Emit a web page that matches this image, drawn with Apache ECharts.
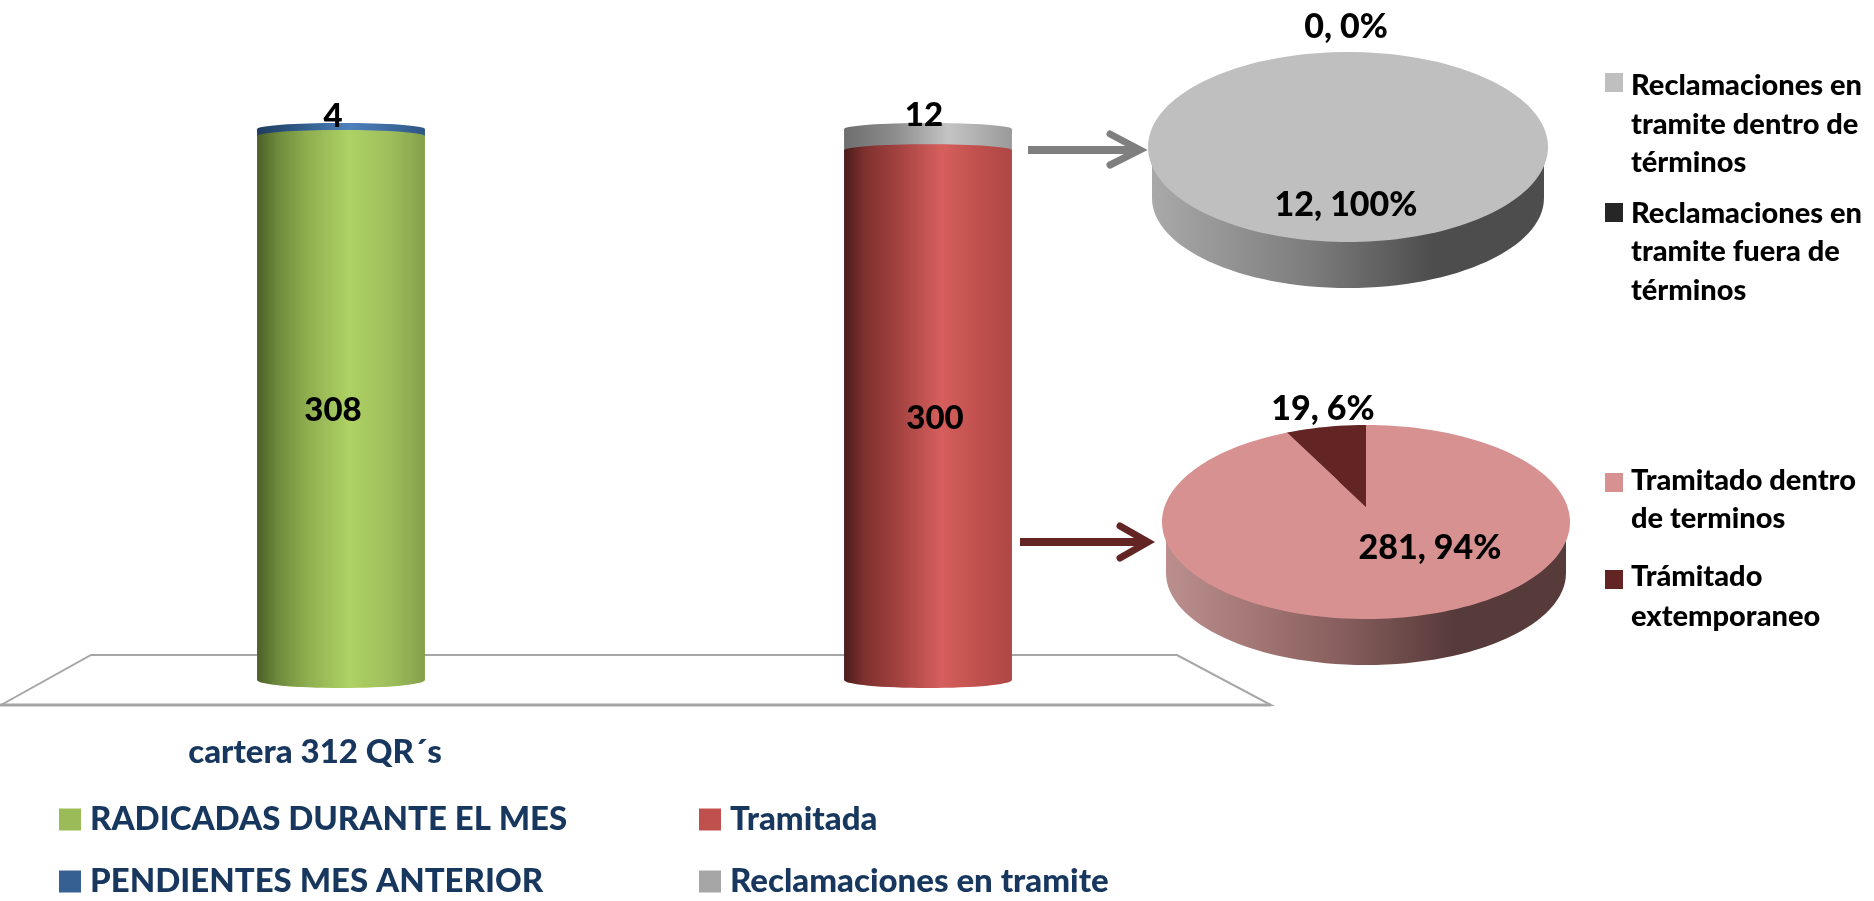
<!DOCTYPE html>
<html>
<head>
<meta charset="utf-8">
<title>cartera 312 QR´s</title>
<style>
  html, body { margin: 0; padding: 0; background: #fff; }
  #chart { width: 1874px; height: 901px; }
</style>
<script src="https://cdn.jsdelivr.net/npm/echarts@6/dist/echarts.min.js"></script>
</head>
<body>
<div id="chart"></div>
<script>
// datos
const categories = ['cartera 312 QR´s', '']
const radicadas = [308, null]
const pendientes = [4, null]
const tramitada = [null, 300]
const enTramite = [null, 12]

const grayNames = ['Reclamaciones en tramite dentro de términos', 'Reclamaciones en tramite fuera de términos']
const grayValues = [12, 0]
const pinkNames = ['Tramitado dentro de terminos', 'Trámitado extemporaneo']
const pinkValues = [281, 19]

const FONT = 'Lato'
const NAVY = '#17375e'

function cylinderFill(stops) {
  return new echarts.graphic.LinearGradient(0, 0, 1, 0,
    stops.map((c, i) => ({ offset: c[0], color: c[1] })))
}

const greenFill = cylinderFill([[0, '#4b5f27'], [0.12, '#6d8a3c'], [0.3, '#8fae50'], [0.55, '#aed264'], [0.8, '#9dbd5b'], [1, '#84a04a']])
const blueFill = cylinderFill([[0, '#1f3c5e'], [0.3, '#33608f'], [0.55, '#4f81bd'], [1, '#2f5684']])
const redFill = cylinderFill([[0, '#4a1c1b'], [0.12, '#7e302e'], [0.35, '#a84543'], [0.58, '#d65f5d'], [0.8, '#c0504d'], [1, '#ad4745']])
const grayFill = cylinderFill([[0, '#6e6e6e'], [0.3, '#8c8c8c'], [0.62, '#c4c4c4'], [1, '#9a9a9a']])

// segmento de cilindro: elipse inferior, cuerpo y tapa abombada
function cylinderSeries(name, values, below, color, fill, order, labelShift) {
  const data = values.map((v, i) => {
    if (v === null) return [i, 0, 0, 0]
    const base = below ? below[i] || 0 : 0
    return [i, base, base + v, v]
  }).filter((d) => d[3] > 0)
  return {
    type: 'custom',
    name: name,
    itemStyle: { color: color },
    encode: { x: 0, y: 2 },
    data: data,
    renderItem: function (params, api) {
      const bandW = api.size([1, 0])[0]
      const w = bandW * 0.286
      const p0 = api.coord([api.value(0), api.value(1)])
      const p1 = api.coord([api.value(0), api.value(2)])
      const left = p0[0] - w / 2
      const mid = api.coord([api.value(0), (api.value(1) + api.value(2)) / 2])
      return {
        type: 'group',
        children: [
          { type: 'ellipse', z2: order, shape: { cx: p0[0], cy: p0[1], rx: w / 2, ry: 8 }, style: { fill: fill } },
          { type: 'rect', z2: order, shape: { x: left, y: p1[1], width: w, height: p0[1] - p1[1] }, style: { fill: fill } },
          { type: 'ellipse', z2: order, shape: { cx: p0[0], cy: p1[1], rx: w / 2, ry: 6 }, style: { fill: fill } },
          {
            type: 'text', z2: 100,
            style: {
              x: p0[0] + labelShift[0], y: mid[1] + labelShift[1],
              text: String(api.value(3)), fill: '#000',
              font: '900 33px ' + FONT, align: 'center', verticalAlign: 'middle'
            }
          }
        ]
      }
    }
  }
}

// puntos del borde de la elipse, fraccion 0 = las 12, sentido horario
function arcPoints(pie, f0, f1) {
  const n = Math.max(2, Math.ceil((f1 - f0) * 180))
  const pts = []
  for (let i = 0; i <= n; i++) {
    const a = (f0 + (f1 - f0) * i / n) * Math.PI * 2
    pts.push([pie.cx + pie.rx * Math.sin(a), pie.cy - pie.ry * Math.cos(a)])
  }
  return pts
}

function pieSeries(pie, names, values, colors, sideFill, labelPos) {
  const total = values.reduce((a, b) => a + b, 0)
  return {
    type: 'custom',
    coordinateSystem: 'none',
    name: pie.name,
    data: values.map((v, i) => ({ name: names[i], value: [v] })),
    renderItem: function (params, api) {
      const i = params.dataIndex
      const v = values[i]
      let before = 0
      for (let k = 0; k < i; k++) before += values[k]
      const f0 = before / total
      const f1 = (before + v) / total
      const children = []
      if (i === 0) {
        // pared lateral
        children.push({ type: 'ellipse', z2: 1, shape: { cx: pie.cx, cy: pie.sideCy, rx: pie.sideRx, ry: pie.sideRy }, style: { fill: sideFill } })
        children.push({ type: 'rect', z2: 1, shape: { x: pie.cx - pie.sideRx, y: pie.cy, width: pie.sideRx * 2, height: pie.sideCy - pie.cy }, style: { fill: sideFill } })
      }
      if (v > 0) {
        let pts = arcPoints(pie, f0, f1)
        if (v < total) pts = pts.concat([[pie.cx, pie.cy + pie.apexShift]])
        children.push({ type: 'polygon', z2: 2, shape: { points: pts }, style: { fill: colors[i] } })
      }
      children.push({
        type: 'text', z2: 100,
        style: {
          x: labelPos[i][0], y: labelPos[i][1],
          text: v + ', ' + Math.round(v / total * 100) + '%', fill: '#000',
          font: '900 34px ' + FONT, align: 'center', verticalAlign: 'middle'
        }
      })
      return { type: 'group', children: children }
    }
  }
}

const grayPie = { name: 'gris', cx: 1348, cy: 147, rx: 200, ry: 95, sideRx: 196, sideRy: 90, sideCy: 198, apexShift: 0 }
const pinkPie = { name: 'rosa', cx: 1366, cy: 522, rx: 204, ry: 97, sideRx: 200, sideRy: 92, sideCy: 573, apexShift: -15 }

const graySide = cylinderFill([[0, '#a9a9a9'], [0.4, '#7d7d7d'], [0.72, '#4d4d4d'], [1, '#4d4d4d']])
const pinkSide = cylinderFill([[0, '#bb8f8d'], [0.4, '#8d6362'], [0.72, '#573a3a'], [1, '#573a3a']])

const chart = echarts.init(document.getElementById('chart'))

function legendBlock(x, lines, color, swatchY, lineYs) {
  const items = [{ type: 'rect', z: 5, shape: { x: x, y: swatchY, width: 18, height: 19 }, style: { fill: color } }]
  lines.forEach((t, i) => items.push({
    type: 'text', z: 5, x: x + 26, y: lineYs[i],
    style: { text: t, fill: '#000', font: '900 29px ' + FONT, verticalAlign: 'middle' }
  }))
  return items
}

const decor = [
  // piso del grafico
  { type: 'polygon', z: 0, shape: { points: [[1, 705], [91, 655], [1177, 655], [1271, 705]] }, style: { fill: '#fff', stroke: '#a6a6a6', lineWidth: 2 } },
  { type: 'line', z: 0, shape: { x1: 0, y1: 705, x2: 1271, y2: 705 }, style: { stroke: '#a6a6a6', lineWidth: 3 } },
  // flechas
  { type: 'line', z: 5, shape: { x1: 1028, y1: 150, x2: 1138, y2: 150 }, style: { stroke: '#7f7f7f', lineWidth: 8 } },
  { type: 'polyline', z: 5, shape: { points: [[1110, 134], [1140, 150], [1110, 165]] }, style: { stroke: '#7f7f7f', lineWidth: 7, lineCap: 'round', fill: 'none' } },
  { type: 'line', z: 5, shape: { x1: 1020, y1: 542, x2: 1146, y2: 542 }, style: { stroke: '#632523', lineWidth: 8 } },
  { type: 'polyline', z: 5, shape: { points: [[1120, 526], [1148, 542], [1120, 558]] }, style: { stroke: '#632523', lineWidth: 7, lineCap: 'round', fill: 'none' } }
]
  .concat(legendBlock(1605, ['Reclamaciones en', 'tramite dentro de', 'términos'], '#bfbfbf', 73, [86, 125, 163]))
  .concat(legendBlock(1605, ['Reclamaciones en', 'tramite fuera de', 'términos'], '#262626', 203, [214, 252, 291]))
  .concat(legendBlock(1605, ['Tramitado dentro', 'de terminos'], '#d69190', 473, [481, 519]))
  .concat(legendBlock(1605, ['Trámitado', 'extemporaneo'], '#632523', 570, [577, 617]))

const legendText = { color: NAVY, fontFamily: FONT, fontWeight: 900, fontSize: 33, padding: [0, 0, 0, 4] }

chart.setOption({
  animation: false,
  backgroundColor: '#fff',
  grid: { left: 47.5, top: 129, width: 1174, height: 551 },
  xAxis: {
    type: 'category',
    data: categories,
    axisLine: { show: false },
    axisTick: { show: false },
    axisLabel: {
      interval: 0, margin: 56, color: NAVY, fontFamily: FONT, fontWeight: 900, fontSize: 33,
      padding: [0, 52, 0, 0]
    }
  },
  yAxis: { type: 'value', min: 0, max: 312, show: false, splitLine: { show: false } },
  legend: [
    {
      left: 59, top: 803, padding: 0, orient: 'vertical', itemWidth: 22, itemHeight: 22, itemGap: 29,
      icon: 'rect', selectedMode: false, textStyle: legendText,
      data: ['RADICADAS DURANTE EL MES', 'PENDIENTES MES ANTERIOR']
    },
    {
      left: 699, top: 803, padding: 0, orient: 'vertical', itemWidth: 22, itemHeight: 22, itemGap: 29,
      icon: 'rect', selectedMode: false, textStyle: legendText,
      data: ['Tramitada', 'Reclamaciones en tramite']
    }
  ],
  graphic: { elements: decor },
  series: [
    cylinderSeries('PENDIENTES MES ANTERIOR', pendientes, radicadas, '#376092', blueFill, 10, [-8, -16]),
    cylinderSeries('RADICADAS DURANTE EL MES', radicadas, null, '#9bbb59', greenFill, 11, [-8, 2]),
    cylinderSeries('Reclamaciones en tramite', enTramite, tramitada, '#a6a6a6', grayFill, 10, [-4, -24]),
    cylinderSeries('Tramitada', tramitada, null, '#c0504d', redFill, 11, [7, 3]),
    pieSeries(grayPie, grayNames, grayValues, ['#bfbfbf', '#262626'], graySide, [[1346, 205], [1346, 27]]),
    pieSeries(pinkPie, pinkNames, pinkValues, ['#d69190', '#632523'], pinkSide, [[1430, 548], [1323, 409]])
  ]
})
</script>
</body>
</html>
